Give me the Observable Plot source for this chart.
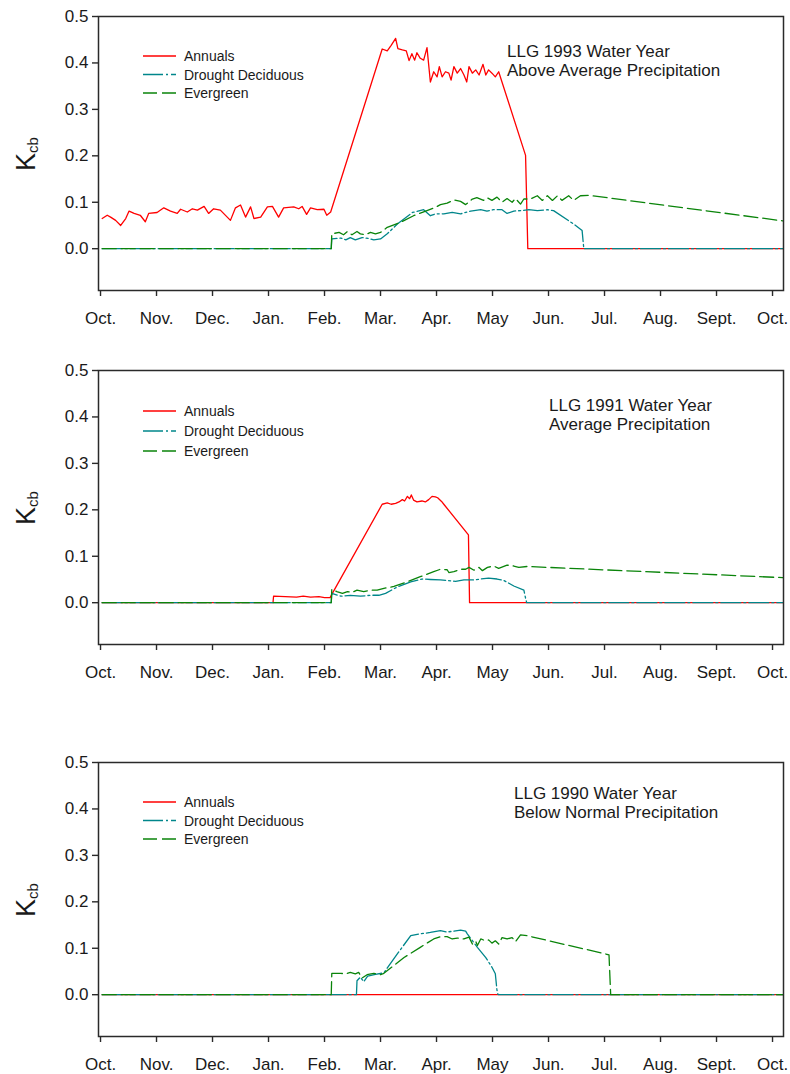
<!DOCTYPE html>
<html>
<head>
<meta charset="utf-8">
<script src="https://cdn.jsdelivr.net/npm/d3@7"></script>
<script src="https://cdn.jsdelivr.net/npm/@observablehq/plot@0.6"></script>
<style>
  body { margin: 0; background: #fff; }
  #page { position: relative; width: 790px; height: 1074px; overflow: hidden; background: #fff; }
  .panel { position: absolute; left: 0; width: 790px; }
  .panel svg { display: block; overflow: visible; }
</style>
</head>
<body>
<div id="page"></div>
<script>
// Basal crop coefficient (Kcb) through each water year, Oct. to Oct.
// x is time in months since 1 Oct.; y is Kcb.

const monthLabels = ["Oct.", "Nov.", "Dec.", "Jan.", "Feb.", "Mar.", "Apr.", "May", "Jun.", "Jul.", "Aug.", "Sept.", "Oct."];
const kcbTicks = [0, 0.1, 0.2, 0.3, 0.4, 0.5];
const seriesNames = ["Annuals", "Drought Deciduous", "Evergreen"];
const panelTitles = [
  ["LLG 1993 Water Year", "Above Average Precipitation"],
  ["LLG 1991 Water Year", "Average Precipitation"],
  ["LLG 1990 Water Year", "Below Normal Precipitation"]
];

// ---- 1993 water year ----
const annuals1993 = [
  [0.03,0.065],[0.12,0.072],[0.18,0.068],[0.27,0.061],[0.36,0.050],[0.45,0.065],[0.51,0.081],[0.60,0.076],
  [0.71,0.072],[0.80,0.058],[0.86,0.076],[1.01,0.078],[1.13,0.088],[1.25,0.081],[1.37,0.076],[1.43,0.085],
  [1.55,0.079],[1.64,0.086],[1.73,0.083],[1.85,0.091],[1.93,0.076],[2.02,0.086],[2.14,0.083],[2.32,0.061],
  [2.41,0.088],[2.50,0.094],[2.59,0.068],[2.68,0.090],[2.74,0.065],[2.86,0.068],[2.98,0.090],[3.07,0.091],
  [3.18,0.068],[3.27,0.088],[3.45,0.090],[3.54,0.086],[3.60,0.091],[3.68,0.074],[3.75,0.088],[3.87,0.084],
  [3.99,0.085],[4.04,0.072],[4.11,0.079],
  [5.03,0.430],[5.12,0.426],[5.19,0.438],[5.27,0.453],[5.31,0.431],[5.39,0.428],[5.46,0.426],[5.51,0.405],
  [5.56,0.420],[5.61,0.406],[5.65,0.422],[5.71,0.410],[5.77,0.406],[5.83,0.433],[5.89,0.359],[5.95,0.381],
  [6.01,0.370],[6.05,0.392],[6.10,0.370],[6.16,0.381],[6.22,0.378],[6.26,0.363],[6.31,0.392],[6.37,0.378],
  [6.43,0.388],[6.49,0.374],[6.54,0.359],[6.58,0.392],[6.64,0.378],[6.70,0.385],[6.76,0.374],[6.83,0.397],
  [6.88,0.374],[6.93,0.385],[6.99,0.378],[7.05,0.370],[7.11,0.381],
  [7.59,0.201],[7.63,0],[12.18,0]
];
const deciduous1993 = [
  [0.03,0],[4.12,0],[4.13,0.021],[4.29,0.023],[4.38,0.019],[4.46,0.024],[4.55,0.019],[4.67,0.024],
  [4.79,0.022],[4.88,0.019],[5.00,0.021],[5.12,0.032],[5.30,0.053],[5.57,0.078],[5.77,0.084],[5.89,0.071],
  [5.98,0.075],[6.13,0.075],[6.28,0.078],[6.43,0.075],[6.61,0.081],[6.79,0.084],[6.90,0.081],[7.02,0.084],
  [7.17,0.084],[7.26,0.076],[7.38,0.081],[7.50,0.082],[7.65,0.084],[7.80,0.082],[7.98,0.084],[8.09,0.082],
  [8.45,0.053],[8.60,0.039],[8.63,0],[12.18,0]
];
const evergreen1993 = [
  [0.03,0],[4.12,0],[4.13,0.032],[4.26,0.035],[4.34,0.030],[4.41,0.037],[4.49,0.030],[4.58,0.037],
  [4.64,0.032],[4.73,0.030],[4.82,0.035],[4.91,0.032],[5.00,0.035],[5.12,0.046],[5.36,0.057],[5.59,0.071],
  [5.83,0.082],[5.98,0.089],[6.07,0.095],[6.19,0.098],[6.31,0.105],[6.43,0.102],[6.52,0.095],[6.64,0.107],
  [6.72,0.110],[6.84,0.104],[6.90,0.110],[6.99,0.104],[7.08,0.111],[7.17,0.100],[7.26,0.108],[7.35,0.100],
  [7.41,0.108],[7.50,0.096],[7.56,0.107],[7.68,0.107],[7.80,0.114],[7.89,0.104],[7.98,0.114],[8.07,0.104],
  [8.16,0.114],[8.24,0.104],[8.36,0.114],[8.45,0.104],[8.57,0.114],[8.72,0.115],[12.18,0.060]
];

// ---- 1991 water year ----
const annuals1991 = [
  [0.03,0],[3.08,0],[3.09,0.014],[3.30,0.013],[3.50,0.012],[3.62,0.014],[3.75,0.012],[3.90,0.013],
  [4.00,0.011],[4.10,0.011],[4.13,0.018],
  [5.03,0.212],[5.12,0.215],[5.19,0.212],[5.27,0.214],[5.33,0.217],[5.39,0.222],[5.43,0.219],[5.48,0.229],
  [5.52,0.224],[5.55,0.232],[5.59,0.221],[5.65,0.217],[5.74,0.219],[5.80,0.217],[5.86,0.222],[5.92,0.229],
  [5.98,0.228],[6.02,0.226],[6.09,0.218],[6.13,0.212],
  [6.57,0.146],[6.59,0],[12.18,0]
];
const deciduous1991 = [
  [0.03,0],[4.12,0],[4.13,0.020],[4.29,0.014],[4.46,0.016],[4.64,0.014],[4.82,0.016],[4.97,0.016],
  [5.09,0.020],[5.30,0.034],[5.54,0.045],[5.74,0.051],[5.89,0.050],[6.07,0.049],[6.19,0.048],[6.34,0.046],
  [6.49,0.049],[6.67,0.049],[6.79,0.051],[6.93,0.053],[7.08,0.051],[7.20,0.048],[7.38,0.036],[7.56,0.027],
  [7.59,0.010],[7.61,0],[12.18,0]
];
const evergreen1991 = [
  [0.03,0],[4.12,0],[4.13,0.029],[4.22,0.024],[4.32,0.020],[4.41,0.024],[4.49,0.022],[4.58,0.027],
  [4.70,0.024],[4.82,0.027],[4.94,0.027],[5.06,0.031],[5.24,0.035],[5.48,0.045],[5.71,0.056],[5.95,0.067],
  [6.07,0.072],[6.19,0.071],[6.22,0.065],[6.31,0.067],[6.43,0.072],[6.52,0.072],[6.58,0.076],[6.67,0.070],
  [6.76,0.076],[6.82,0.069],[6.91,0.076],[7.02,0.079],[7.11,0.074],[7.26,0.081],[7.38,0.079],[7.47,0.076],
  [7.62,0.078],[12.18,0.054]
];

// ---- 1990 water year ----
const annuals1990 = [[0.03,0],[12.18,0]];
const deciduous1990 = [
  [0.03,0],[4.57,0],[4.58,0.030],[4.64,0.038],[4.70,0.028],[4.77,0.040],[4.91,0.044],[5.06,0.047],
  [5.30,0.088],[5.54,0.127],[5.71,0.131],[5.89,0.134],[6.07,0.138],[6.19,0.135],[6.31,0.137],[6.43,0.139],
  [6.52,0.137],[6.55,0.131],[6.73,0.102],[6.88,0.080],[6.99,0.059],[7.05,0.045],[7.08,0.009],[7.10,0],[12.18,0]
];
const evergreen1990 = [
  [0.03,0],[4.12,0],[4.13,0.046],[4.29,0.046],[4.38,0.045],[4.46,0.048],[4.55,0.045],[4.61,0.048],
  [4.67,0.036],[4.76,0.043],[4.88,0.046],[5.00,0.043],[5.06,0.046],[5.42,0.080],[5.71,0.102],[5.95,0.120],
  [6.07,0.125],[6.19,0.125],[6.28,0.120],[6.37,0.122],[6.49,0.120],[6.58,0.124],[6.64,0.109],[6.70,0.115],
  [6.73,0.106],[6.79,0.120],[6.88,0.116],[6.93,0.118],[6.99,0.111],[7.05,0.116],[7.11,0.109],[7.17,0.123],
  [7.26,0.120],[7.35,0.123],[7.41,0.114],[7.50,0.129],[7.62,0.127],[9.08,0.086],[9.11,0],[12.18,0]
];

const yearSeries = [
  [annuals1993, deciduous1993, evergreen1993],
  [annuals1991, deciduous1991, evergreen1991],
  [annuals1990, deciduous1990, evergreen1990]
];

// ---------- drawing ----------
const FONT = "'Liberation Sans', Arial, Helvetica, sans-serif";
const INK = "#1a1a1a";
const lineStyle = [
  {stroke: "#ff0000", dash: null},
  {stroke: "#00868b", dash: "20,3,2,3"},
  {stroke: "#0a840a", dash: "14,5"}
];
// panel placement on the page
const layout = [
  {top: 0,   noteX: 507, noteY: 57, legendY: 56, legendStep: 18.5},
  {top: 354, noteX: 549, noteY: 57, legendY: 57, legendStep: 20},
  {top: 746, noteX: 514, noteY: 53, legendY: 56, legendStep: 18.5}
];

const page = document.getElementById("page");

yearSeries.forEach((series, p) => {
  const L = layout[p];
  const marks = [];
  series.forEach((pts, i) => {
    marks.push(Plot.line(pts, {
      x: d => d[0], y: d => d[1],
      stroke: lineStyle[i].stroke,
      strokeWidth: 1.3,
      strokeDasharray: lineStyle[i].dash,
      curve: "linear"
    }));
  });

  const chart = Plot.plot({
    width: 790, height: 334,
    marginLeft: 98, marginRight: 7, marginTop: 16, marginBottom: 44,
    style: {fontFamily: FONT, fontSize: "17px", color: INK, background: "transparent", overflow: "visible"},
    x: {domain: [-0.036, 12.196]},
    y: {domain: [-0.09, 0.5]},
    marks: [
      ...marks,
      Plot.frame({stroke: "#2a2a2a", strokeWidth: 1.5}),
      Plot.axisX({ticks: d3.range(monthLabels.length), tickFormat: i => monthLabels[i],
                  tickSize: 6, tickPadding: 15, label: null, strokeWidth: 1.4, stroke: "#2a2a2a"}),
      Plot.axisY({ticks: kcbTicks, tickFormat: d3.format(".1f"),
                  tickSize: 6, tickPadding: 4, label: null, strokeWidth: 1.4, stroke: "#2a2a2a"})
    ]
  });

  const svg = d3.select(chart);

  // y-axis title: K with subscript cb
  const yl = svg.append("text")
    .attr("transform", `translate(35,154) rotate(-90)`)
    .attr("text-anchor", "middle")
    .attr("fill", INK)
    .style("font-family", FONT);
  yl.append("tspan").attr("font-size", 27).text("K");
  yl.append("tspan").attr("font-size", 15).attr("dy", 3).text("cb");

  // legend
  const lg = svg.append("g").style("font-family", FONT).attr("font-size", 14)
    .attr("fill", INK).attr("text-anchor", "start");
  seriesNames.forEach((name, i) => {
    const cy = L.legendY + i * L.legendStep;
    lg.append("line")
      .attr("x1", 143).attr("x2", 176).attr("y1", cy).attr("y2", cy)
      .attr("stroke", lineStyle[i].stroke).attr("stroke-width", 1.3)
      .attr("stroke-dasharray", lineStyle[i].dash);
    lg.append("text").attr("x", 184).attr("y", cy + 5).text(name);
  });

  // year annotation
  const nt = svg.append("g").style("font-family", FONT).attr("font-size", 17)
    .attr("fill", INK).attr("text-anchor", "start");
  panelTitles[p].forEach((t, k) => {
    nt.append("text").attr("x", L.noteX).attr("y", L.noteY + k * 19).text(t);
  });

  const holder = document.createElement("div");
  holder.className = "panel";
  holder.style.top = L.top + "px";
  holder.appendChild(chart);
  page.appendChild(holder);
});
</script>
</body>
</html>
